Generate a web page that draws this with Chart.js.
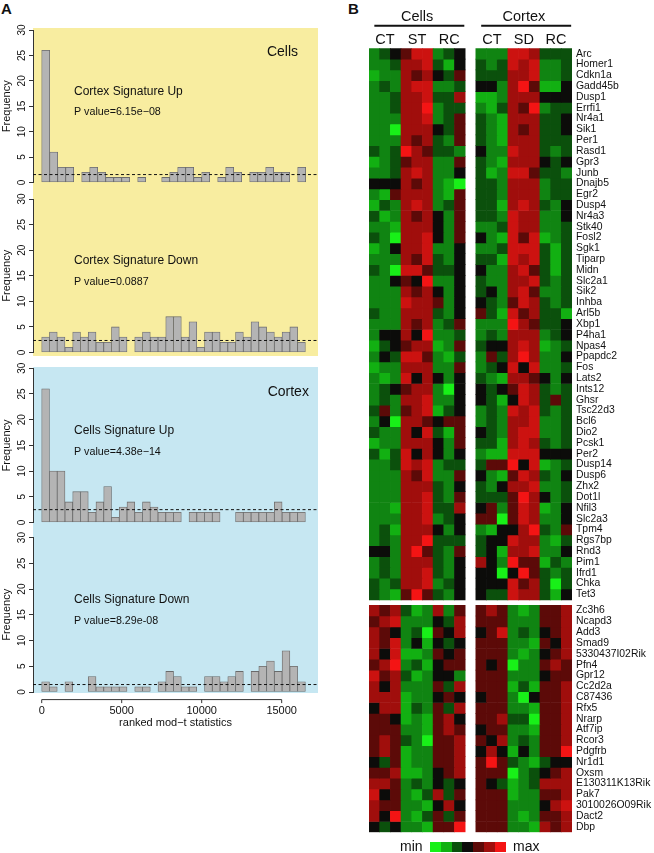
<!DOCTYPE html>
<html>
<head>
<meta charset="utf-8">
<script src="https://cdn.jsdelivr.net/npm/chart.js@4.4.1/dist/chart.umd.min.js"></script>
<style>
  body { margin: 0; width: 654px; height: 853px; position: relative; overflow: hidden; background: #fff;
         font-family: "Liberation Sans", Arial, sans-serif; color: #111; }
  canvas, .box { position: absolute; }
  .tag { position: absolute; font-weight: bold; font-size: 15px; line-height: 15px; }
  .key { position: absolute; font-size: 14px; line-height: 14px; }
  .sw { position: absolute; width: 11px; height: 10px; }
</style>
</head>
<body>
<div class="tag" style="left:1px;top:1px">A</div>
<div class="tag" style="left:348px;top:1px">B</div>

<div class="box" style="left:33px;top:28px;width:285px;height:328px;background:#f8eda0"></div>
<div class="box" style="left:33px;top:367px;width:285px;height:326px;background:#c6e7f2"></div>

<canvas id="h1" width="330" height="170" style="left:0;top:20px"></canvas>
<canvas id="h2" width="330" height="170" style="left:0;top:190px"></canvas>
<canvas id="h3" width="330" height="172" style="left:0;top:358px"></canvas>
<canvas id="h4" width="330" height="210" style="left:0;top:528px"></canvas>

<canvas id="heat" width="324" height="853" style="left:330px;top:0"></canvas>

<div class="key" style="left:400px;top:839px">min</div>
<div id="legend"></div>
<div class="key" style="left:513px;top:839px">max</div>

<script>
// histogram counts
const cortexUpCounts = [26, 6, 3, 3, 0, 2, 3, 2, 1, 1, 1, 0, 1, 0, 0, 1, 2, 3, 3, 1, 2, 0, 1, 3, 2, 0, 2, 2, 3, 2, 2, 0, 3];
const cortexDownCounts = [3, 4, 3, 1, 4, 3, 4, 2, 2, 5, 3, 0, 3, 4, 3, 3, 7, 7, 3, 6, 1, 4, 4, 2, 2, 4, 3, 6, 5, 4, 3, 4, 5, 2];
const cellsUpCounts = [26, 10, 10, 4, 6, 6, 2, 4, 7, 1, 3, 4, 2, 4, 3, 2, 2, 2, 0, 2, 2, 2, 2, 0, 0, 2, 2, 2, 2, 2, 4, 2, 2, 2];
const cellsDownCounts = [2, 1, 0, 2, 0, 0, 3, 1, 1, 1, 1, 0, 1, 1, 0, 2, 4, 3, 1, 1, 0, 3, 3, 2, 3, 4, 0, 4, 5, 6, 4, 8, 5, 2];
const binWidths = [500, 484.7, 484.7, 484.7];
const cutoffs = [1.56, 2.35, 2.5, 1.45];
const xTicks = [0, 5000, 10000, 15000];
const signatureNames = ['Cortex Signature Up', 'Cortex Signature Down', 'Cells Signature Up', 'Cells Signature Down'];
const pValues = ['P value=6.15e\u221208', 'P value=0.0887', 'P value=4.38e\u221214', 'P value=8.29e-08'];

// heatmap (panel B): 0 = bright green ... 4 = black ... 8 = bright red
// each row: Cells CT ST RC | Cortex CT SD RC
const upGenes = ['Arc', 'Homer1', 'Cdkn1a', 'Gadd45b', 'Dusp1', 'Errfi1', 'Nr4a1', 'Sik1', 'Per1', 'Rasd1',
  'Gpr3', 'Junb', 'Dnajb5', 'Egr2', 'Dusp4', 'Nr4a3', 'Stk40', 'Fosl2', 'Sgk1', 'Tiparp', 'Midn', 'Slc2a1',
  'Sik2', 'Inhba', 'Arl5b', 'Xbp1', 'P4ha1', 'Npas4', 'Ppapdc2', 'Fos', 'Lats2', 'Ints12', 'Ghsr', 'Tsc22d3',
  'Bcl6', 'Dio2', 'Pcsk1', 'Per2', 'Dusp14', 'Dusp6', 'Zhx2', 'Dot1l', 'Nfil3', 'Slc2a3', 'Tpm4', 'Rgs7bp',
  'Rnd3', 'Pim1', 'Ifrd1', 'Chka', 'Tet3'];
const upValues = [
  '234577234 222776333', '223667314 323767223', '122656435 333667223', '232677223 442685114',
  '223667336 112666444', '223668233 213658233', '222667235 321666334', '220666435 321656334',
  '222656325 321666333', '323865332 422766323', '123566225 321666434', '223676224 312775332',
  '444656210 332666233', '215666215 332666233', '132676235 331676324', '312656425 332766224',
  '221666425 223766223', '320667425 421757123', '124667224 223777313', '222657324 331767313',
  '320775334 422675313', '224548224 322667323', '222656424 342675223', '222766524 432576323',
  '322666324 531756331', '222656235 222865334', '244648223 232666234', '134566125 344676123',
  '243775213 253686224', '122666225 234747223', '212746424 321665424', '234566204 434576323',
  '232667224 431476353', '352567134 232767323', '240665455 232667223', '322647315 432677223',
  '122666425 331676323', '313746424 211777444', '223767233 355847123', '222657225 421576324',
  '222666324 324667223', '222667325 333586423', '221667336 452576124', '222667234 550576224',
  '231666424 214468325', '232668333 344766213', '442685325 341667224', '232666324 642855132',
  '232667324 440485323', '323667234 444756303', '321585324 433766314'
];
const downGenes = ['Zc3h6', 'Ncapd3', 'Add3', 'Smad9', '5330437I02Rik', 'Pfn4', 'Gpr12', 'Cc2d2a', 'C87436',
  'Rfx5', 'Nrarp', 'Atf7ip', 'Rcor3', 'Pdgfrb', 'Nr1d1', 'Oxsm', 'E130311K13Rik', 'Pak7', '3010026O09Rik',
  'Dact2', 'Dbp'];
const downValues = [
  '656312625 565212556', '567222436 555222556', '654230546 457232456', '657241434 555221546',
  '647112545 555212456', '568231455 545022565', '756312442 555222455', '646222536 555131556',
  '666122454 455204556', '466132536 555221556', '554121564 556330556', '555221565 455221556',
  '565320556 546232556', '565122556 464142558', '435122556 585321344', '556112456 555023456',
  '665232434 543123666', '745213635 555122556', '655221464 555222467', '648213535 555212556',
  '434221558 555221656'
];
const columnLabels = ['', 'CT', '', '', 'ST', '', '', 'RC', '', '', '', 'CT', '', '', 'SD', '', '', 'RC', ''];
const groupNames = ['Cells', 'Cortex'];
const heatColors = ['#18f018', '#12b012', '#108412', '#0b500c', '#0c0c0a', '#5c0a08', '#a00e0c', '#cc1210', '#f41414'];
const legendSteps = [0, 1, 3, 4, 5, 6, 8];

Chart.defaults.font.family = '"Liberation Sans", Arial, sans-serif';
Chart.defaults.color = '#111';

const X_MIN = -544, X_MAX = 17270;
const FONT = '"Liberation Sans", Arial, sans-serif';

function notesPlugin(notes, bottomAxis) {
  return {
    id: 'notes',
    afterDatasetsDraw(chart) {
      const { ctx, scales: { x, y } } = chart;
      ctx.save();
      ctx.fillStyle = '#111';
      ctx.textBaseline = 'middle';
      notes.forEach(n => {
        ctx.font = n.size + 'px ' + FONT;
        ctx.textAlign = n.align;
        ctx.fillText(n.text, x.getPixelForValue(n.x), y.getPixelForValue(n.y));
      });
      if (bottomAxis) {
        // R style axis, drawn a little below the plot region
        const yy = chart.chartArea.bottom + 7.6;
        ctx.strokeStyle = '#333';
        ctx.lineWidth = 1;
        ctx.beginPath();
        ctx.moveTo(x.getPixelForValue(xTicks[0]), yy);
        ctx.lineTo(x.getPixelForValue(xTicks[xTicks.length - 1]), yy);
        xTicks.forEach(t => {
          const px = x.getPixelForValue(t);
          ctx.moveTo(px, yy);
          ctx.lineTo(px, yy + 3.5);
        });
        ctx.stroke();
      }
      ctx.restore();
    }
  };
}

function histogram(id, counts, binWidth, cutoff, notes, pad, bottomAxis) {
  const bars = counts.map((c, i) => ({ x: (i + 0.5) * binWidth, y: c }));
  return new Chart(document.getElementById(id), {
    type: 'bar',
    data: {
      datasets: [
        { type: 'bar', data: bars, backgroundColor: '#b4b4b4', borderColor: '#6a6a6a', borderWidth: 0.8,
          borderSkipped: false, barPercentage: 1, categoryPercentage: 1, order: 2 },
        { type: 'line', data: [{ x: X_MIN, y: cutoff }, { x: X_MAX, y: cutoff }], borderColor: '#111',
          borderWidth: 1, borderDash: [3, 2.5], pointRadius: 0, order: 1 }
      ]
    },
    options: {
      responsive: false,
      animation: false,
      events: [],
      layout: { padding: { top: pad[0], right: 12, bottom: pad[1], left: 0 } },
      plugins: { legend: { display: false }, tooltip: { enabled: false } },
      scales: {
        x: {
          type: 'linear', min: X_MIN, max: X_MAX, display: bottomAxis, offset: false,
          afterBuildTicks: s => { s.ticks = xTicks.map(v => ({ value: v })); },
          grid: { display: false, drawTicks: false, offset: false }, border: { display: false },
          ticks: { padding: 12.4, font: { size: 11 }, maxRotation: 0, color: '#111', callback: v => String(v) },
          title: { display: true, text: 'ranked mod\u2212t statistics', font: { size: 11 }, padding: { top: 0, bottom: 8.4 }, color: '#111' },
          afterFit: s => { if (bottomAxis) s.height = 46; }
        },
        y: {
          min: 0, max: 30,
          ticks: { stepSize: 5, minRotation: 90, maxRotation: 90, crossAlign: 'center', padding: 1.5,
                   font: { size: 10 }, color: '#111' },
          grid: { drawOnChartArea: false, tickLength: 4, color: '#333' },
          border: { color: '#333' },
          title: { display: true, text: 'Frequency', font: { size: 11 }, padding: 0, color: '#111' },
          afterFit: s => { s.width = 33; }
        }
      }
    },
    plugins: [notesPlugin(notes, bottomAxis)]
  });
}

function panelNotes(i, corner) {
  const list = [
    { text: signatureNames[i], x: 2020, y: 17.9, align: 'left', size: 12 },
    { text: pValues[i], x: 2020, y: 13.8, align: 'left', size: 10.7 }
  ];
  if (corner) list.push(corner);
  return list;
}

histogram('h1', cortexUpCounts, binWidths[0], cutoffs[0],
  panelNotes(0, { text: 'Cells', x: 16020, y: 25.6, align: 'right', size: 14 }), [10, 6], false);
histogram('h2', cortexDownCounts, binWidths[1], cutoffs[1], panelNotes(1), [9, 6.7], false);
histogram('h3', cellsUpCounts, binWidths[2], cutoffs[2],
  panelNotes(2, { text: 'Cortex', x: 16700, y: 25.3, align: 'right', size: 14 }), [10.3, 7.3], false);
histogram('h4', cellsDownCounts, binWidths[3], cutoffs[3], panelNotes(3), [9.6, 0], true);

// heatmap as stacked bars, one dataset per gene row
function rowColors(s) {
  const digits = s.replace(' ', '');
  const out = [];
  for (let c = 0; c < columnLabels.length; c++) {
    if (c === 9) { out.push('rgba(0,0,0,0)'); continue; }
    const k = c < 9 ? c : c - 1;
    out.push(heatColors[+digits[k]]);
  }
  return out;
}

const heatRows = upValues.concat([null], downValues);
const allGenes = upGenes.concat(downGenes);
const geneTicks = [];
upGenes.forEach((g, i) => geneTicks.push(i + 0.5));
downGenes.forEach((g, i) => geneTicks.push(upGenes.length + 0.5 + i + 0.5));

const heatDatasets = heatRows.map(s => {
  if (s === null) {
    return { data: columnLabels.map(() => 0.5), backgroundColor: 'rgba(0,0,0,0)' };
  }
  return {
    data: columnLabels.map((_, c) => (c === 9 ? 0 : 1)),
    backgroundColor: rowColors(s),
    borderWidth: 0
  };
});

const headerPlugin = {
  id: 'header',
  afterDraw(chart) {
    const { ctx, scales: { x } } = chart;
    ctx.save();
    ctx.fillStyle = '#111';
    ctx.strokeStyle = '#111';
    ctx.lineWidth = 2;
    ctx.font = '14.5px ' + FONT;
    ctx.textAlign = 'center';
    ctx.textBaseline = 'middle';
    [[0, 8], [10, 18]].forEach((g, i) => {
      const a = x.getPixelForValue(g[0]);
      const b = x.getPixelForValue(g[1]);
      ctx.fillText(groupNames[i], (a + b) / 2, 16.7);
      ctx.beginPath();
      ctx.moveTo(a, 25.7);
      ctx.lineTo(b + 4.5, 25.7);
      ctx.stroke();
    });
    ctx.restore();
  }
};

new Chart(document.getElementById('heat'), {
  type: 'bar',
  data: { labels: columnLabels, datasets: heatDatasets },
  options: {
    responsive: false,
    animation: false,
    events: [],
    barPercentage: 1,
    categoryPercentage: 1,
    layout: { padding: { top: 0, right: 0, bottom: 20.7, left: 39 } },
    plugins: { legend: { display: false }, tooltip: { enabled: false } },
    scales: {
      x: {
        position: 'top', stacked: true,
        grid: { display: false, drawTicks: false }, border: { display: false },
        ticks: { autoSkip: false, maxRotation: 0, padding: 0, font: { size: 14.5 }, color: '#111' },
        afterFit: s => { s.height = 48.3; }
      },
      y: {
        position: 'right', stacked: true, reverse: true, min: 0, max: upGenes.length + 0.5 + downGenes.length,
        afterBuildTicks: s => { s.ticks = geneTicks.map(v => ({ value: v })); },
        grid: { display: false, drawTicks: false }, border: { display: false },
        ticks: { autoSkip: false, padding: 4, font: { size: 10.4 }, color: '#111',
                 callback: (v, i) => allGenes[i] },
        afterFit: s => { s.width = 82; }
      }
    }
  },
  plugins: [headerPlugin]
});

// min/max colour key
const legend = document.getElementById('legend');
legendSteps.forEach((k, i) => {
  const d = document.createElement('div');
  d.className = 'sw';
  d.style.left = (430 + i * 10.8) + 'px';
  d.style.top = '841.7px';
  d.style.background = heatColors[k];
  legend.appendChild(d);
});
</script>
</body>
</html>
